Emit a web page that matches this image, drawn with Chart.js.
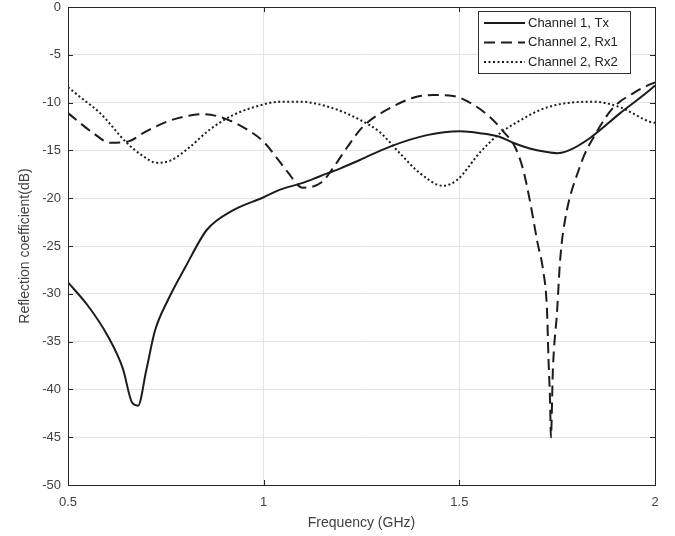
<!DOCTYPE html>
<html>
<head>
<meta charset="utf-8">
<script src="https://cdn.jsdelivr.net/npm/chart.js@4"></script>
<style>
	html, body { margin: 0; padding: 0; background: #fff; }
	#wrap { position: relative; width: 675px; height: 536px; }
</style>
</head>
<body>
<div id="wrap"><canvas id="plot" width="675" height="536"></canvas></div>
<script>
// measured return loss, frequency in GHz, values in dB
const txFreq = [0.5, 0.55, 0.6, 0.64, 0.664, 0.679, 0.70, 0.722, 0.756, 0.80, 0.855, 0.92, 1.0, 1.042, 1.1, 1.144, 1.195, 1.246, 1.323, 1.417, 1.502, 1.553, 1.604, 1.637, 1.68, 1.72, 1.75, 1.78, 1.834, 1.911, 1.995, 2.0];
const txDb = [-28.8, -31.2, -34.3, -37.8, -41.4, -41.7, -38.0, -33.9, -30.6, -27.2, -23.3, -21.3, -19.9, -19.1, -18.4, -17.7, -16.9, -16.0, -14.6, -13.4, -13.0, -13.2, -13.6, -14.2, -14.8, -15.15, -15.3, -15.0, -13.7, -11.1, -8.4, -8.2];

const rx1Freq = [0.5, 0.565, 0.607, 0.65, 0.70, 0.752, 0.804, 0.845, 0.896, 0.957, 1.0, 1.034, 1.06, 1.1, 1.149, 1.178, 1.213, 1.254, 1.331, 1.382, 1.433, 1.484, 1.535, 1.578, 1.612, 1.643, 1.663, 1.68, 1.70, 1.714, 1.724, 1.728, 1.732, 1.734, 1.739, 1.75, 1.757, 1.765, 1.808, 1.852, 1.894, 1.945, 1.987, 2.0];
const rx1Db = [-11.1, -13.2, -14.2, -14.1, -13.0, -12.0, -11.4, -11.2, -11.6, -12.8, -14.1, -15.8, -17.2, -18.9, -18.3, -16.8, -14.7, -12.5, -10.4, -9.5, -9.2, -9.3, -10.2, -11.5, -13.0, -14.7, -17.0, -20.2, -24.7, -27.5, -31.7, -37.0, -41.4, -45.0, -38.0, -31.7, -26.8, -23.6, -16.7, -13.0, -10.5, -9.0, -8.1, -7.9];

const rx2Freq = [0.5, 0.54, 0.582, 0.65, 0.692, 0.727, 0.76, 0.804, 0.863, 0.922, 0.99, 1.042, 1.093, 1.17, 1.246, 1.297, 1.348, 1.4, 1.458, 1.494, 1.553, 1.604, 1.637, 1.724, 1.842, 1.911, 1.987, 2.0];
const rx2Db = [-8.4, -9.7, -11.1, -14.2, -15.6, -16.3, -16.1, -14.9, -12.8, -11.3, -10.3, -9.9, -9.9, -10.5, -11.8, -13.1, -15.3, -17.4, -18.7, -18.1, -15.2, -13.2, -12.3, -10.5, -9.9, -10.5, -12.0, -12.1];

const seriesNames = ['Channel 1, Tx', 'Channel 2, Rx1', 'Channel 2, Rx2'];
const xTicks = [0.5, 1, 1.5, 2];
const yTicks = [0, -5, -10, -15, -20, -25, -30, -35, -40, -45, -50];

const ink = '#1c1c1c';
const axisInk = '#262626';
const textInk = '#404040';
const font = 'Liberation Sans, Arial, Helvetica, sans-serif';

function pts(xs, ys) {
	return xs.map((x, i) => ({ x: x, y: ys[i] }));
}

function line(label, data, dash) {
	return {
		label: label,
		data: data,
		borderColor: ink,
		borderWidth: 2,
		borderDash: dash,
		fill: false,
		pointRadius: 0,
		cubicInterpolationMode: 'monotone'
	};
}

// box around the axes, inward ticks on all four sides, and the legend
const frame = {
	id: 'frame',
	afterDatasetsDraw(chart) {
		const ctx = chart.ctx;
		const a = chart.chartArea;
		const xs = chart.scales.x, ys = chart.scales.y;
		const t = 5;
		ctx.save();
		ctx.strokeStyle = axisInk;
		ctx.lineWidth = 1;
		ctx.beginPath();
		xTicks.forEach(v => {
			const px = Math.round(xs.getPixelForValue(v)) + 0.5;
			ctx.moveTo(px, a.bottom); ctx.lineTo(px, a.bottom - t);
			ctx.moveTo(px, a.top); ctx.lineTo(px, a.top + t);
		});
		yTicks.forEach(v => {
			const py = Math.round(ys.getPixelForValue(v)) + 0.5;
			ctx.moveTo(a.left, py); ctx.lineTo(a.left + t, py);
			ctx.moveTo(a.right, py); ctx.lineTo(a.right - t, py);
		});
		ctx.stroke();
		ctx.strokeRect(Math.round(a.left) + 0.5, Math.round(a.top) + 0.5,
			Math.round(a.right - a.left), Math.round(a.bottom - a.top));

		// legend
		const bx = 478.5, by = 11.5, bw = 152, bh = 62;
		ctx.fillStyle = '#fff';
		ctx.fillRect(bx, by, bw, bh);
		ctx.strokeStyle = '#333';
		ctx.strokeRect(bx, by, bw, bh);
		const rows = [23, 42.5, 62];
		ctx.font = '13px ' + font;
		ctx.textBaseline = 'middle';
		chart.data.datasets.forEach((ds, i) => {
			ctx.strokeStyle = ink;
			ctx.lineWidth = 2;
			ctx.setLineDash(ds.borderDash || []);
			ctx.beginPath();
			ctx.moveTo(484, rows[i]);
			ctx.lineTo(525, rows[i]);
			ctx.stroke();
			ctx.setLineDash([]);
			ctx.fillStyle = '#222';
			ctx.fillText(ds.label, 528, rows[i]);
		});
		ctx.restore();
	}
};

const plot = new Chart(document.getElementById('plot').getContext('2d'), {
	type: 'line',
	data: {
		datasets: [
			line(seriesNames[0], pts(txFreq, txDb), []),
			line(seriesNames[1], pts(rx1Freq, rx1Db), [11, 6]),
			line(seriesNames[2], pts(rx2Freq, rx2Db), [2, 2.5])
		]
	},
	options: {
		responsive: false,
		animation: false,
		layout: {
			padding: {
				left: 0,
				right: 20,
				top: 7,
				bottom: 0
			}
		},
		plugins: {
			legend: { display: false },
			tooltip: { enabled: false }
		},
		scales: {
			x: {
				type: 'linear',
				min: 0.5,
				max: 2,
				afterBuildTicks: s => { s.ticks = xTicks.map(v => ({ value: v })); },
				afterFit: s => { s.height = 51; s.paddingLeft = 0; s.paddingRight = 0; },
				title: {
					display: true,
					text: 'Frequency (GHz)',
					color: textInk,
					font: { family: font, size: 14 },
					padding: { top: 4, bottom: 4 }
				},
				grid: {
					color: '#e3e3e3',
					drawTicks: false
				},
				border: { display: false },
				ticks: {
					color: textInk,
					padding: 10,
					maxRotation: 0,
					font: { family: font, size: 13 },
					callback: v => String(v)
				}
			},
			y: {
				type: 'linear',
				min: -50,
				max: 0,
				afterBuildTicks: s => { s.ticks = yTicks.map(v => ({ value: v })); },
				afterFit: s => { s.width = 68; s.paddingTop = 0; s.paddingBottom = 0; },
				title: {
					display: true,
					text: 'Reflection coefficient(dB)',
					color: textInk,
					font: { family: font, size: 14 },
					padding: { top: 17, bottom: 4 }
				},
				grid: {
					color: '#e3e3e3',
					drawTicks: false
				},
				border: { display: false },
				ticks: {
					color: textInk,
					padding: 7,
					font: { family: font, size: 13 },
					callback: v => String(v)
				}
			}
		}
	},
	plugins: [frame]
});
</script>
</body>
</html>
